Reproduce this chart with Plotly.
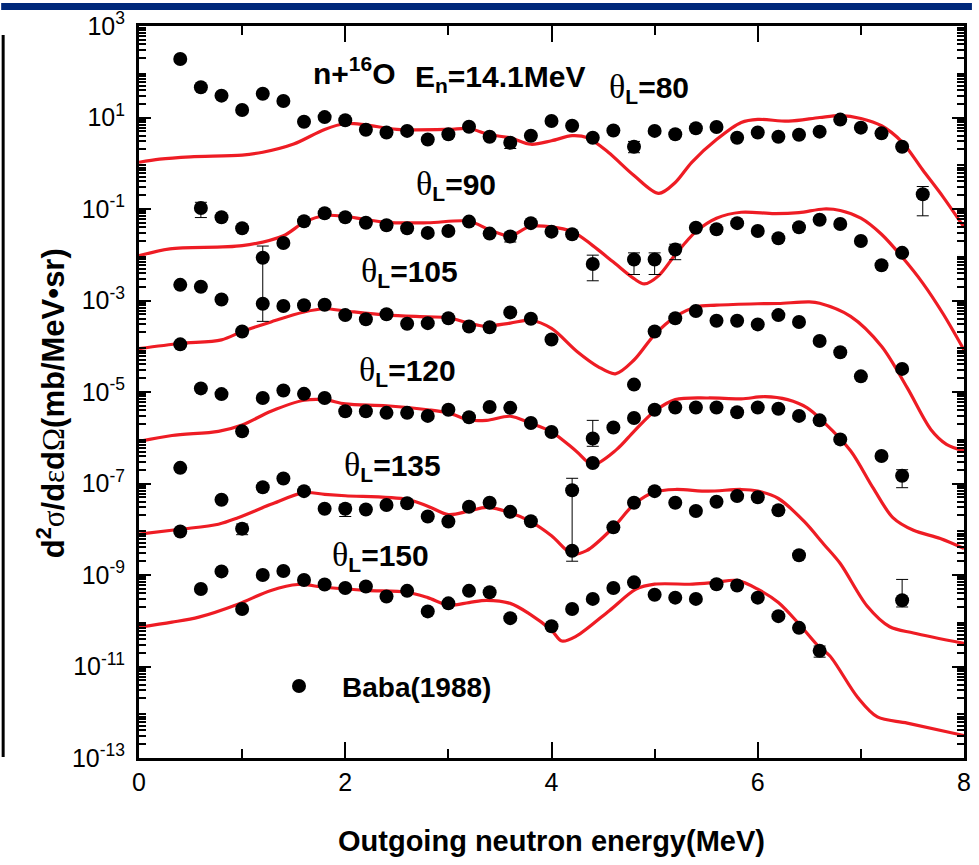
import plotly.graph_objects as go

# ---------------- experimental points (Baba 1988), outgoing energy in MeV ----------------
E80 = [0.4, 0.6, 0.8, 1.0, 1.2, 1.4, 1.6, 1.8, 2.0, 2.2, 2.4, 2.6, 2.8, 3.0, 3.2, 3.4, 3.6, 3.8,
       4.0, 4.2, 4.4, 4.6, 4.8, 5.0, 5.2, 5.4, 5.6, 5.8, 6.0, 6.2, 6.4, 6.6, 6.8, 7.0, 7.2, 7.4, 7.6]
Y80 = [190, 46, 30, 14.6, 33, 23, 8.1, 10.2, 8.7, 5.4, 4.7, 5.1, 3.3, 4.3, 6.3, 3.8, 2.8, 4.0,
       8.4, 6.6, 3.6, 5.2, 2.3, 5.1, 4.3, 5.8, 6.2, 3.6, 4.7, 3.8, 4.2, 4.9, 9.0, 6.0, 4.5, 2.3, 0.21]

E90 = [0.6, 0.8, 1.0, 1.2, 1.4, 1.6, 1.8, 2.0, 2.2, 2.4, 2.6, 2.8, 3.0, 3.2, 3.4, 3.6, 3.8, 4.0,
       4.2, 4.4, 4.8, 5.0, 5.2, 5.4, 5.6, 5.8, 6.0, 6.2, 6.4, 6.6, 6.8, 7.0, 7.2, 7.4]
Y90 = [0.105, 0.066, 0.038, 0.0086, 0.018, 0.054, 0.081, 0.066, 0.050, 0.044, 0.038, 0.030,
       0.033, 0.053, 0.029, 0.025, 0.049, 0.032, 0.028, 0.0063, 0.0079, 0.0079, 0.013, 0.039,
       0.036, 0.049, 0.033, 0.023, 0.040, 0.058, 0.047, 0.020, 0.0059, 0.011]

E105 = [0.4, 0.4, 0.6, 0.8, 1.0, 1.2, 1.4, 1.6, 1.8, 2.0, 2.2, 2.4, 2.6, 2.8, 3.0, 3.2, 3.4,
        3.6, 3.8, 4.0, 4.8, 5.0, 5.2, 5.4, 5.6, 5.8, 6.0, 6.2, 6.4, 6.6, 6.8, 7.0, 7.4]
Y105 = [2.2e-3, 1.1e-4, 2.0e-3, 1.05e-3, 2.1e-4, 8.5e-4, 7.6e-4, 7.9e-4, 8.1e-4, 4.8e-4,
        3.9e-4, 5.0e-4, 3.1e-4, 3.2e-4, 4.1e-4, 2.7e-4, 2.6e-4, 5.5e-4, 4.0e-4, 1.4e-4,
        1.45e-5, 2.1e-4, 4.1e-4, 5.9e-4, 3.6e-4, 3.6e-4, 3.0e-4, 4.8e-4, 3.4e-4, 1.3e-4,
        7.4e-5, 2.2e-5, 3.2e-5]

E120 = [0.4, 0.6, 0.8, 1.0, 1.2, 1.4, 1.6, 1.8, 2.0, 2.2, 2.4, 2.6, 2.8, 3.0, 3.2, 3.4, 3.6,
        3.8, 4.0, 4.4, 4.4, 4.6, 4.8, 5.0, 5.2, 5.4, 5.6, 5.8, 6.0, 6.2, 6.4, 6.6, 6.8, 7.2, 7.4]
Y120 = [2.2e-7, 1.2e-5, 9.0e-6, 1.38e-6, 7.4e-6, 1.08e-5, 9.1e-6, 7.4e-6, 3.8e-6, 3.8e-6,
        3.5e-6, 3.5e-6, 3.0e-6, 4.1e-6, 2.8e-6, 4.7e-6, 4.5e-6, 2.1e-6, 1.34e-6, 9.6e-7,
        2.8e-7, 1.67e-6, 2.7e-6, 4.1e-6, 4.6e-6, 4.6e-6, 4.6e-6, 3.6e-6, 4.6e-6, 4.3e-6,
        3.0e-6, 2.4e-6, 9.2e-7, 4.0e-7, 1.48e-7]

E135 = [0.4, 0.8, 1.0, 1.2, 1.4, 1.6, 1.8, 2.0, 2.2, 2.4, 2.6, 2.8, 3.0, 3.2, 3.4, 3.6, 3.8,
        4.2, 4.2, 4.6, 4.8, 5.0, 5.2, 5.4, 5.6, 5.8, 6.0, 6.2, 6.4, 7.4]
Y135 = [8.9e-9, 4.4e-8, 1.03e-8, 8.3e-8, 1.29e-7, 6.8e-8, 2.8e-8, 2.8e-8, 2.7e-8, 3.4e-8,
        3.7e-8, 1.9e-8, 1.48e-8, 3.1e-8, 3.8e-8, 2.4e-8, 1.5e-8, 7.1e-8, 3.4e-9, 1.1e-8,
        3.8e-8, 6.8e-8, 3.8e-8, 2.5e-8, 4.0e-8, 5.3e-8, 5.0e-8, 2.6e-8, 2.7e-9, 2.8e-10]

E150 = [0.6, 0.8, 1.0, 1.2, 1.4, 1.6, 1.8, 2.0, 2.2, 2.4, 2.6, 2.8, 3.0, 3.2, 3.4, 3.6, 4.0,
        4.2, 4.4, 4.6, 4.8, 5.0, 5.2, 5.4, 5.6, 5.8, 6.0, 6.2, 6.4, 6.6]
Y150 = [4.95e-10, 1.2e-9, 1.8e-10, 1.0e-9, 1.22e-9, 7.8e-10, 6.2e-10, 5.2e-10, 5.6e-10,
        3.4e-10, 4.5e-10, 1.6e-10, 2.4e-10, 4.5e-10, 4.2e-10, 1.14e-10, 7.6e-11, 1.8e-10,
        3.0e-10, 5.2e-10, 6.9e-10, 3.7e-10, 3.2e-10, 3.0e-10, 6.3e-10, 5.9e-10, 3.2e-10,
        1.26e-10, 7.0e-11, 2.2e-11]

# error bars: point index -> (upper bound, lower bound)
ERR80 = {16: (3.4, 2.1), 22: (3.0, 1.7), 36: (0.31, 0.071)}
ERR90 = {0: (0.14, 0.065), 15: (0.031, 0.019), 19: (0.0098, 0.0027), 20: (0.011, 0.0037),
         21: (0.011, 0.0037), 22: (0.017, 0.0078)}
ERR105 = {5: (0.0155, 3.5e-4)}
ERR120 = {19: (2.4e-6, 6.5e-7), 34: (2.0e-7, 8.1e-8)}
ERR135 = {2: (1.3e-8, 7.6e-9), 7: (3.5e-8, 1.9e-8), 18: (1.3e-7, 2.0e-9), 29: (8.0e-10, 2.0e-10)}
ERR150 = {29: (2.8e-11, 1.6e-11)}

# ---------------- calculated spectra ----------------
C80_E = [0.0, 0.2, 0.5, 1.0, 1.2, 1.5, 1.8, 2.0, 2.2, 2.5, 3.0, 3.2, 3.4, 3.6, 3.8, 4.0, 4.2,
         4.35, 4.55, 4.8, 5.04, 5.2, 5.36, 5.6, 5.84, 6.0, 6.3, 6.6, 6.8, 7.0, 7.2, 7.4, 7.6,
         7.8, 8.0]
C80_Y = [1.05, 1.23, 1.38, 1.51, 1.74, 2.63, 5.5, 7.4, 6.9, 5.5, 5.5, 5.75, 4.2, 3.6, 2.6, 3.1,
         4.0, 3.6, 1.74, 0.54, 0.22, 0.38, 1.05, 3.3, 7.8, 9.1, 8.3, 10.0, 11.0, 9.5, 6.6, 2.9,
         0.71, 0.18, 0.04]

C90_E = [0.0, 0.3, 1.0, 1.4, 1.6, 1.8, 2.0, 2.4, 2.8, 3.2, 3.4, 3.6, 3.8, 4.2, 4.4, 4.6, 4.8,
         4.9, 5.04, 5.2, 5.4, 5.6, 5.84, 6.16, 6.4, 6.64, 6.8, 7.0, 7.2, 7.4, 7.6, 7.8, 8.0]
C90_Y = [9.5e-3, 1.35e-2, 1.58e-2, 2.6e-2, 5.1e-2, 7.2e-2, 6.9e-2, 5.1e-2, 5.0e-2, 5.4e-2,
         3.5e-2, 2.6e-2, 4.2e-2, 3.2e-2, 1.58e-2, 6.9e-3, 3.0e-3, 2.3e-3, 3.5e-3, 1.0e-2,
         3.2e-2, 6.3e-2, 8.5e-2, 7.9e-2, 8.3e-2, 0.1, 9.3e-2, 6.3e-2, 2.8e-2, 8.9e-3, 2.4e-3,
         5.0e-4, 8.3e-5]

C105_E = [0.0, 0.4, 0.8, 1.0, 1.28, 1.6, 1.8, 2.0, 2.4, 2.8, 3.0, 3.2, 3.35, 3.6, 3.8, 4.0,
          4.25, 4.45, 4.62, 4.8, 5.0, 5.2, 5.4, 5.6, 6.0, 6.2, 6.5, 6.6, 6.9, 7.2, 7.45, 7.68,
          7.83, 8.0]
C105_Y = [8.9e-5, 1.15e-4, 1.38e-4, 2.1e-4, 3.4e-4, 5.6e-4, 6.6e-4, 5.9e-4, 4.8e-4, 4.4e-4,
          4.2e-4, 3.2e-4, 2.75e-4, 3.2e-4, 3.7e-4, 2.45e-4, 7.6e-5, 3.6e-5, 2.5e-5, 5.0e-5,
          1.8e-4, 4.4e-4, 7.2e-4, 7.9e-4, 8.5e-4, 8.6e-4, 9.3e-4, 8.7e-4, 4.5e-4, 1.0e-4,
          1.23e-5, 1.5e-6, 7.2e-7, 5.2e-7]

C120_E = [0.0, 0.32, 0.77, 1.0, 1.28, 1.6, 1.8, 2.0, 2.4, 2.8, 3.0, 3.2, 3.37, 3.6, 3.79, 4.0,
          4.24, 4.4, 4.63, 4.8, 5.0, 5.2, 5.52, 5.84, 6.07, 6.29, 6.48, 6.64, 6.9, 7.12, 7.31,
          7.51, 7.77, 8.0]
C120_Y = [8.3e-7, 1.12e-6, 1.38e-6, 1.9e-6, 3.8e-6, 6.6e-6, 6.8e-6, 5.5e-6, 5.0e-6, 4.1e-6,
          3.5e-6, 2.45e-6, 2.4e-6, 2.95e-6, 2.1e-6, 1.35e-6, 5.1e-7, 2.6e-7, 5.5e-7, 1.38e-6,
          3.8e-6, 6.8e-6, 7.4e-6, 7.1e-6, 7.9e-6, 6.8e-6, 4.5e-6, 2.2e-6, 5.2e-7, 7.9e-8,
          1.8e-8, 9.5e-9, 6.3e-9, 3.8e-9]

C135_E = [0.0, 0.4, 0.77, 0.96, 1.28, 1.6, 1.8, 2.0, 2.6, 2.8, 3.0, 3.2, 3.37, 3.6, 3.79, 4.0,
          4.2, 4.34, 4.6, 4.8, 5.0, 5.2, 5.52, 5.84, 6.0, 6.2, 6.45, 6.64, 6.8, 7.06, 7.28,
          7.51, 8.0]
C135_Y = [7.8e-9, 1.0e-8, 1.29e-8, 1.78e-8, 3.5e-8, 6.3e-8, 5.8e-8, 5.4e-8, 4.5e-8, 3.2e-8,
          2.1e-8, 2.5e-8, 3.0e-8, 2.3e-8, 1.5e-8, 7.2e-9, 2.9e-9, 3.4e-9, 1.1e-8, 3.5e-8,
          6.5e-8, 7.4e-8, 6.8e-8, 7.4e-8, 6.8e-8, 4.7e-8, 1.48e-8, 4.7e-9, 1.78e-9, 2.1e-10,
          7.4e-11, 5.4e-11, 3.2e-11]

C150_E = [0.0, 0.32, 0.58, 0.96, 1.28, 1.54, 1.8, 2.2, 2.6, 2.8, 3.0, 3.2, 3.37, 3.6, 3.79,
          4.0, 4.1, 4.24, 4.56, 4.82, 5.0, 5.37, 5.59, 5.8, 6.0, 6.2, 6.4, 6.6, 6.7, 6.97,
          7.16, 7.45, 8.0]
C150_Y = [7.2e-11, 9.3e-11, 1.2e-10, 2.3e-10, 4.6e-10, 6.2e-10, 5.4e-10, 4.6e-10, 4.2e-10,
          3.2e-10, 2.2e-10, 2.5e-10, 2.8e-10, 2.4e-10, 1.4e-10, 6.2e-11, 3.6e-11, 4.6e-11,
          1.66e-10, 4.9e-10, 6.3e-10, 6.3e-10, 6.9e-10, 7.6e-10, 4.9e-10, 2.5e-10, 8.5e-11,
          2.6e-11, 1.7e-11, 2.1e-12, 7.9e-13, 5.8e-13, 3.1e-13]

ANGLES = ["80", "90", "105", "120", "135", "150"]
POINTS = {"80": (E80, Y80, ERR80), "90": (E90, Y90, ERR90), "105": (E105, Y105, ERR105),
          "120": (E120, Y120, ERR120), "135": (E135, Y135, ERR135), "150": (E150, Y150, ERR150)}
CURVES = {"80": (C80_E, C80_Y), "90": (C90_E, C90_Y), "105": (C105_E, C105_Y),
          "120": (C120_E, C120_Y), "135": (C135_E, C135_Y), "150": (C150_E, C150_Y)}

SANS = "Liberation Sans, Arial, sans-serif"
SERIF = "Liberation Serif, Times New Roman, serif"
RED = "#ee1c24"

fig = go.Figure()

for a in ANGLES:
    ce, cy = CURVES[a]
    fig.add_trace(go.Scatter(x=ce, y=cy, mode="lines",
                             line=dict(color=RED, width=3.2, shape="spline", smoothing=0.9),
                             showlegend=False, hoverinfo="skip"))

for a in ANGLES:
    e, y, err = POINTS[a]
    idx = sorted(err)
    ex = [e[i] for i in idx]
    ey = [y[i] for i in idx]
    up = [err[i][0] - y[i] for i in idx]
    dn = [y[i] - err[i][1] for i in idx]
    fig.add_trace(go.Scatter(x=ex, y=ey, mode="markers", marker=dict(size=0.1, color="black"),
                             error_y=dict(type="data", symmetric=False, array=up, arrayminus=dn,
                                          color="black", thickness=1, width=6),
                             showlegend=False, hoverinfo="skip"))

for k, a in enumerate(ANGLES):
    e, y, err = POINTS[a]
    fig.add_trace(go.Scatter(x=e, y=y, mode="markers", name="Baba(1988)",
                             marker=dict(size=14, color="black", line=dict(width=0)),
                             showlegend=(k == 0)))

# labelled decades on the main y axis, unlabelled even decades on an overlay axis
odd_decades = [10.0 ** d for d in range(-13, 4, 2)]
odd_text = [f"10<sup>{d}</sup>" for d in range(-13, 4, 2)]
even_decades = [10.0 ** d for d in range(-12, 3, 2)]
minor_vals = [m * 10.0 ** d for d in range(-13, 3) for m in range(2, 10)]

fig.update_xaxes(range=[0, 8], tickmode="array", tickvals=[0, 2, 4, 6, 8],
                 ticks="inside", ticklen=16, tickwidth=2, tickcolor="black",
                 minor=dict(tickvals=[1, 3, 5, 7], ticks="inside", ticklen=9, tickwidth=2, tickcolor="black"),
                 showline=True, linewidth=3, linecolor="black", mirror="ticks",
                 showgrid=False, zeroline=False,
                 tickfont=dict(family=SANS, size=25, color="black"))
fig.update_yaxes(type="log", range=[-13, 3], tickmode="array", tickvals=odd_decades, ticktext=odd_text,
                 ticks="inside", ticklen=12, tickwidth=2, tickcolor="black",
                 minor=dict(tickvals=minor_vals, ticks="inside", ticklen=7, tickwidth=1.5, tickcolor="black"),
                 showline=True, linewidth=3, linecolor="black", mirror="ticks",
                 showgrid=False, zeroline=False, ticklabelstandoff=6,
                 tickfont=dict(family=SANS, size=25, color="black"))
fig.update_layout(yaxis2=dict(type="log", range=[-13, 3], overlaying="y", anchor="x", side="left",
                              tickmode="array", tickvals=even_decades, showticklabels=False,
                              ticks="inside", ticklen=12, tickwidth=2, tickcolor="black",
                              showline=True, linewidth=3, linecolor="black", mirror="ticks",
                              showgrid=False, zeroline=False))

L, R, T, B = 139, 8, 23, 107
PW, PH = 979 - L - R, 865 - T - B


def px(xp):
    return (xp - L) / PW


def py(yp):
    return (T + PH - yp) / PH


def theta(a):
    return (f"<span style='font-family:{SERIF};font-weight:normal;font-size:34px'>θ</span>"
            f"<sub><b>L</b></sub><b>={a}</b>")


labels = [
    ("<b>n+<sup>16</sup>O</b>", 312, 68),
    ("<b>E<sub>n</sub>=14.1MeV</b>", 415, 76),
    (theta("80"), 611, 85),
    (theta("90"), 416, 183),
    (theta("105"), 361, 270),
    (theta("120"), 359, 369),
    (theta("135"), 344, 465),
    (theta("150"), 332, 555),
]
ann = []
for txt, x0, y0 in labels:
    ann.append(dict(text=txt, x=px(x0), y=py(y0), xref="paper", yref="paper", xanchor="left",
                    yanchor="middle", showarrow=False, font=dict(family=SANS, size=30, color="black")))

ann.append(dict(text="<b>Outgoing neutron energy(MeV)</b>", x=px(555), y=py(841), xref="paper",
                yref="paper", xanchor="center", yanchor="middle", showarrow=False,
                font=dict(family=SANS, size=29, color="black")))
ann.append(dict(text=(f"<b>d<sup>2</sup></b><span style='font-family:{SERIF};font-weight:normal'>σ</span>"
                      f"<b>/d</b><span style='font-family:{SERIF};font-weight:normal'>ε</span>"
                      f"<b>d</b><span style='font-family:{SERIF};font-weight:normal'>Ω</span>"
                      f"<b>(mb/MeV•sr)</b>"),
                x=px(51), y=py(402), xref="paper", yref="paper", xanchor="center", yanchor="middle",
                textangle=-90, showarrow=False, font=dict(family=SANS, size=31, color="black")))

shapes = [
    # dark banner along the top edge
    dict(type="rect", xref="paper", yref="paper", x0=px(0), x1=px(979), y0=py(7), y1=py(0),
         fillcolor="#00287a", line=dict(width=0), layer="above"),
    # edge of the neighbouring frame at the far left
    dict(type="line", xref="paper", yref="paper", x0=px(2), x1=px(2), y0=py(32), y1=py(757),
         line=dict(color="black", width=3)),
]

fig.update_layout(
    width=979, height=865,
    margin=dict(l=L, r=R, t=T, b=B, pad=0),
    paper_bgcolor="white", plot_bgcolor="white",
    showlegend=True,
    legend=dict(x=px(257), y=py(686), xanchor="left", yanchor="middle", bgcolor="rgba(0,0,0,0)",
                font=dict(family=SANS, size=28, color="black", weight="bold"), itemwidth=76,
                tracegroupgap=0),
    annotations=ann,
    shapes=shapes,
)

fig.write_html("out.html")
